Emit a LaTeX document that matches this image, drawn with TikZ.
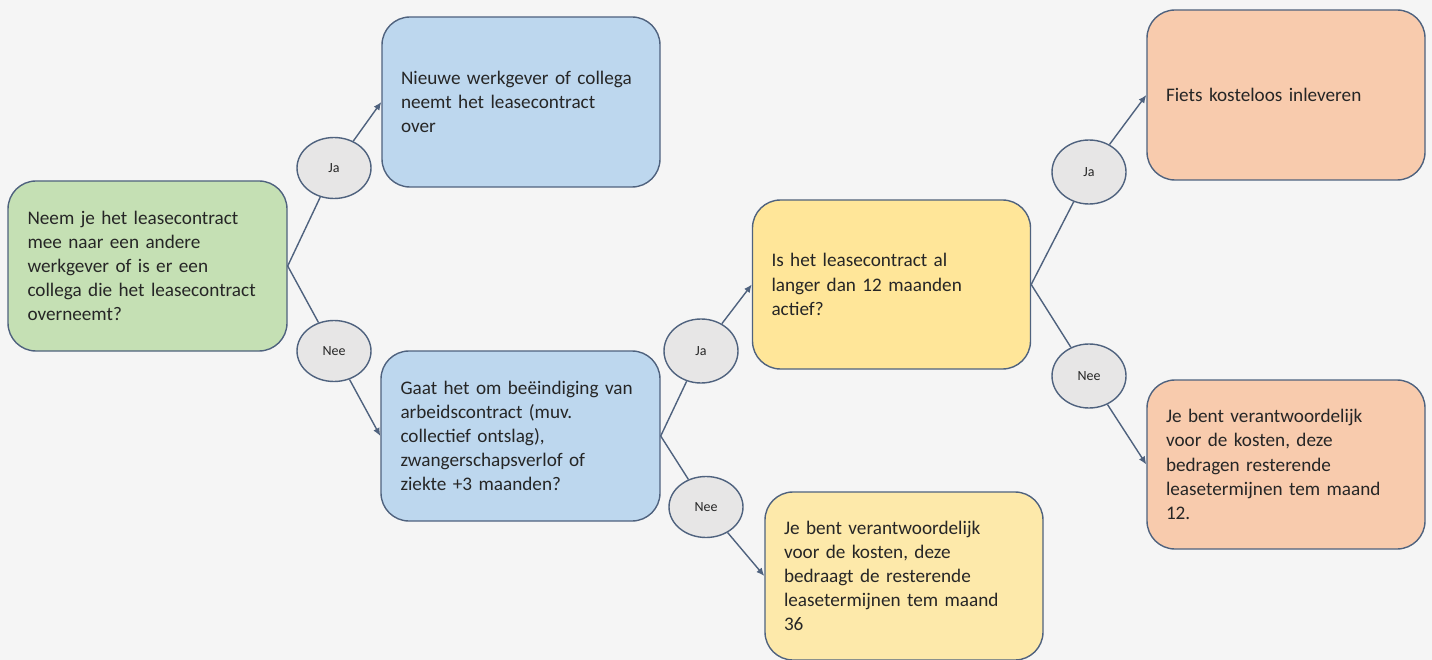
\documentclass[tikz,border=0pt]{standalone}
\usepackage{fontspec}
\setmainfont{Carlito}
\usetikzlibrary{arrows.meta,shapes.geometric}
\definecolor{bg}{HTML}{F5F5F5}
\definecolor{edgec}{HTML}{4F627E}
\definecolor{txt}{HTML}{262626}
\definecolor{cgreen}{HTML}{C5E0B4}
\definecolor{cblue}{HTML}{BDD7EE}
\definecolor{cyel}{HTML}{FFE699}
\definecolor{cyellight}{HTML}{FDE9AA}
\definecolor{corange}{HTML}{F8CBAD}
\definecolor{cell}{HTML}{E7E6E6}
\tikzset{
  box/.style={draw=edgec, line width=1.4pt, rounded corners=28pt,
    minimum width=278pt, minimum height=170pt, text width=240pt,
    inner xsep=19pt, align=left, text=txt,
    font=\fontsize{19.2}{24.2}\selectfont},
  lab/.style={ellipse, draw=edgec, line width=1.4pt, fill=cell,
    minimum width=74pt, minimum height=61pt, inner sep=0pt, text=txt,
    font=\fontsize{14}{16}\selectfont},
  conn/.style={draw=edgec, line width=1.4pt},
  arr/.style={conn, -{Latex[length=8pt,width=7pt]}}
}
\begin{document}
\begin{tikzpicture}[x=1pt,y=-1pt]
\fill[bg] (0,0) rectangle (1432,660);
\useasboundingbox (0,0) rectangle (1432,660);

\node[box, fill=cgreen, minimum width=279pt] (q1) at (147.5,266) {Neem je het leasecontract\\ mee naar een andere\\ werkgever of is er een\\ collega die het leasecontract\\ overneemt?};
\node[box, fill=cblue] (b1) at (521,102) {Nieuwe werkgever of collega\\ neemt het leasecontract\\ over};
\node[box, fill=cblue, minimum width=279pt] (q2) at (520.5,436) {Gaat het om beëindiging van\\ arbeidscontract (muv.\\ collectief ontslag),\\ zwangerschapsverlof of\\ ziekte +3 maanden?};
\node[box, fill=cyel, minimum width=277pt, minimum height=169pt] (q3) at (891.5,284.5) {Is het leasecontract al\\ langer dan 12 maanden\\ actief?};
\node[box, fill=cyellight, minimum height=168pt] (y2) at (904,576) {Je bent verantwoordelijk\\ voor de kosten, deze\\ bedraagt de resterende\\ leasetermijnen tem maand\\ 36};
\node[box, fill=corange] (o1) at (1286,95) {Fiets kosteloos inleveren};
\node[box, fill=corange, minimum height=169pt] (o2) at (1286,464.5) {Je bent verantwoordelijk\\ voor de kosten, deze\\ bedragen resterende\\ leasetermijnen tem maand\\ 12.};

\node[lab] (ja1) at (334,168) {Ja};
\node[lab] (nee1) at (334,351) {Nee};
\node[lab, minimum height=64pt] (ja2) at (701,351) {Ja};
\node[lab] (nee2) at (706,507) {Nee};
\node[lab, minimum height=64pt] (ja3) at (1089,172) {Ja};
\node[lab, minimum height=64pt] (nee3) at (1089,376) {Nee};

\draw[conn] (q1.east) -- (ja1);
\draw[arr] (ja1) -- (b1.west);
\draw[conn] (q1.east) -- (nee1);
\draw[arr] (nee1) -- (q2.west);
\draw[conn] (q2.east) -- (ja2);
\draw[arr] (ja2) -- (q3.west);
\draw[conn] (q2.east) -- (nee2);
\draw[arr] (nee2) -- (y2.west);
\draw[conn] (q3.east) -- (ja3);
\draw[arr] (ja3) -- (o1.west);
\draw[conn] (q3.east) -- (nee3);
\draw[arr] (nee3) -- (o2.west);
\end{tikzpicture}
\end{document}
